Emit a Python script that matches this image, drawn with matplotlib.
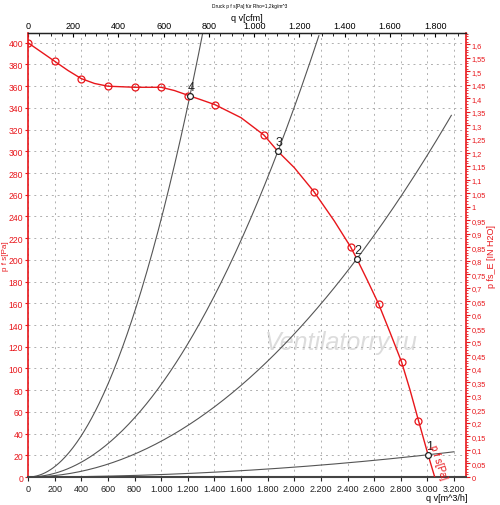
import matplotlib
matplotlib.use("Agg")
import matplotlib.pyplot as plt
import numpy as np
from matplotlib.ticker import MultipleLocator, FuncFormatter

plt.rcParams['font.family'] = ['Liberation Sans', 'DejaVu Sans']

# fan curve (q in m^3/h, p in Pa)
curve_q = [0, 100, 200, 300, 400, 500, 600, 800, 1000, 1100, 1216, 1300, 1404, 1600,
           1772, 1877, 2000, 2147, 2300, 2423, 2470, 2550, 2635, 2720, 2806, 2870, 2933, 3005, 3055]
curve_p = [400, 391.5, 383, 374.5, 367, 362.5, 360, 359, 359, 356, 351, 347.5, 343, 331,
           315, 300, 285, 263, 236, 212, 201, 181, 159, 133, 106, 80, 52, 20.5, 0]
mark_q = [0, 200, 400, 600, 800, 1000, 1200, 1404, 1772, 2147, 2423, 2635, 2806, 2933]
mark_p = [400, 383, 367, 360, 359, 359, 351, 343, 315, 263, 212, 159, 106, 52]

# operating points
op_names = ["1", "2", "3", "4"]
op_q = [3005, 2470, 1877, 1216]
op_p = [20.5, 201, 300, 351]
sys_end_q = [3200, 3180, 2185, 1400]

PA_PER_INH2O = 249.0889
M3H_PER_CFM = 1.69901

fig = plt.figure(figsize=(5, 5.06), dpi=100)
ax = fig.add_axes([0.056, 0.0553, 0.876, 0.8775])

xmax = 3290
ymax = 409
ax.set_xlim(0, xmax)
ax.set_ylim(0, ymax)

# system curves p = k*q^2 through each operating point
for q0, p0, qe in zip(op_q, op_p, sys_end_q):
    k = p0 / q0 ** 2
    qq = np.linspace(0, qe, 200)
    ax.plot(qq, k * qq ** 2, color='#555555', lw=0.8, zorder=2)

ax.plot(curve_q, curve_p, color='#e8161b', lw=1.0, zorder=3)
ax.plot(mark_q, mark_p, ls='none', marker='o', ms=5, mfc='none', mec='#e8161b', mew=0.9, zorder=4)

ax.plot(op_q, op_p, ls='none', marker='o', ms=4.2, mfc='white', mec='#222222', mew=0.9, zorder=5)
for n, q0, p0 in zip(op_names, op_q, op_p):
    ax.text(q0 + 10, p0 + 3, n, fontsize=9, ha='center', va='bottom', color='#222222', zorder=6)

ax.text(3085, 14, "p f s[Pa]", color='#e8161b', fontsize=7, rotation=-72,
        ha='center', va='center', zorder=6)

ax.text(0.715, 0.305, "Ventilatorry.ru", transform=ax.transAxes, fontsize=18,
        style='italic', color='#dcdcdc', ha='center', va='center', zorder=1)

# grid
ax.xaxis.set_major_locator(MultipleLocator(200))
ax.yaxis.set_major_locator(MultipleLocator(20))
ax.grid(True, color='#b0b0b0', ls=(0, (2, 4)), lw=0.7)

thousands = FuncFormatter(lambda v, p: f"{int(round(v)):,}".replace(",", "."))
ax.xaxis.set_major_formatter(thousands)
ax.tick_params(axis='x', labelsize=6.5, length=3, direction='out', colors='#222222', pad=2)
ax.tick_params(axis='y', labelsize=6.2, length=2.5, direction='out', colors='#e8161b',
               labelcolor='#e8161b', pad=1)

ax.spines['left'].set_color('#e8161b')
ax.spines['left'].set_linewidth(1.2)
ax.spines['right'].set_visible(False)
ax.spines['bottom'].set_color('#444444')
ax.spines['bottom'].set_linewidth(1.5)
ax.spines['top'].set_color('#222222')
ax.spines['top'].set_linewidth(1.0)

ax.set_ylabel("p f s[Pa]", color='#e8161b', fontsize=5.8)
ax.yaxis.set_label_coords(-0.043, 0.5)
ax.set_xlabel("q v[m^3/h]", fontsize=6.5)
ax.xaxis.set_label_coords(0.955, -0.037)

# top axis in cfm
top = ax.secondary_xaxis('top', functions=(lambda q: q / M3H_PER_CFM, lambda c: c * M3H_PER_CFM))
top.xaxis.set_major_locator(MultipleLocator(200))
top.xaxis.set_minor_locator(MultipleLocator(50))
top.xaxis.set_major_formatter(thousands)
top.tick_params(axis='x', which='major', labelsize=6.5, length=3, direction='in', pad=2)
top.tick_params(axis='x', which='minor', length=2, direction='in')
top.set_xlabel("q v[cfm]", fontsize=6.5, labelpad=1)
top.spines['top'].set_color('#222222')

# right axis in inH2O
right = ax.secondary_yaxis('right', functions=(lambda p: p / PA_PER_INH2O, lambda h: h * PA_PER_INH2O))
right.yaxis.set_major_locator(MultipleLocator(0.05))
right.yaxis.set_minor_locator(MultipleLocator(0.01))
right.yaxis.set_major_formatter(FuncFormatter(lambda v, p: f"{v:.2f}".rstrip('0').rstrip('.').replace('.', ',')))
right.tick_params(axis='y', which='major', labelsize=5.3, length=3, colors='#e8161b', pad=1)
right.tick_params(axis='y', which='minor', length=1.5, colors='#e8161b')
right.spines['right'].set_color('#e8161b')
right.spines['right'].set_linewidth(1.2)
right.set_ylabel("p fs_E [IN H2O]", color='#e8161b', fontsize=6.5, labelpad=1)

fig.text(0.5, 0.992, "Druck p f s[Pa] für Rho=1,2kg/m^3", fontsize=3.5, ha='center', va='top')

fig.savefig("out.png", dpi=100)
